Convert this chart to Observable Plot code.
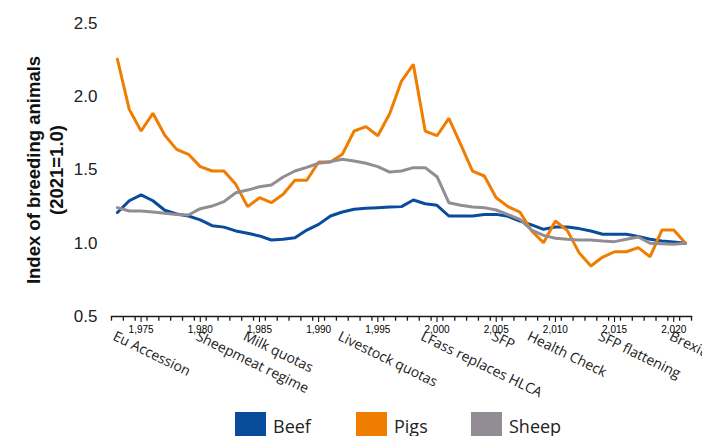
<!DOCTYPE html>
<html>
<head>
<meta charset="utf-8">
<script src="https://cdn.jsdelivr.net/npm/d3@7"></script>
<script src="https://cdn.jsdelivr.net/npm/@observablehq/plot@0.6"></script>
<style>
  html, body { margin: 0; padding: 0; background: #fff; width: 702px; height: 436px; overflow: hidden; }
  #chart { position: relative; width: 702px; height: 436px; }
  .leg { position: absolute; top: 412px; height: 24px; width: 31px; }
  .legt { position: absolute; top: 414px; font-family: "Open Sans", sans-serif; font-size: 18px; color: #222; line-height: 24px; }
</style>
</head>
<body>
<div id="chart"></div>
<script>
const years = d3.range(1973, 2022);
const beef = [1.21,1.29,1.33,1.29,1.225,1.2,1.186,1.16,1.12,1.11,1.084,1.068,1.05,1.022,1.027,1.038,1.09,1.129,1.186,1.213,1.232,1.239,1.243,1.247,1.25,1.295,1.27,1.259,1.186,1.186,1.186,1.197,1.197,1.184,1.152,1.125,1.095,1.111,1.111,1.1,1.084,1.061,1.061,1.061,1.047,1.027,1.015,1.009,1.0];
const pigs = [2.256,1.914,1.766,1.887,1.737,1.641,1.607,1.523,1.493,1.493,1.402,1.25,1.311,1.277,1.334,1.43,1.43,1.555,1.555,1.607,1.766,1.796,1.734,1.884,2.107,2.221,1.766,1.734,1.853,1.675,1.493,1.459,1.311,1.25,1.213,1.084,1.004,1.152,1.088,0.936,0.845,0.906,0.942,0.942,0.97,0.908,1.09,1.09,1.0];
const sheep = [1.243,1.22,1.22,1.213,1.204,1.197,1.193,1.236,1.254,1.284,1.345,1.363,1.386,1.398,1.452,1.493,1.518,1.546,1.557,1.573,1.561,1.546,1.523,1.486,1.493,1.516,1.516,1.454,1.277,1.259,1.247,1.243,1.227,1.195,1.163,1.09,1.054,1.034,1.027,1.022,1.022,1.015,1.011,1.027,1.043,1.0,0.997,0.993,1.0];
const eventYears = [1973,1980,1984,1992,1999,2005,2008,2014,2020];
const eventLabels = ["Eu Accession","Sheepmeat regime","Milk quotas","Livestock quotas","LFass replaces HLCA","SFP","Health Check","SFP flattening","Brexit"];
const yTicks = [0.5,1.0,1.5,2.0,2.5];
const seriesNames = ["Beef","Pigs","Sheep"];
const seriesColors = ["#0a4c9c","#f07d00","#928d94"];

const rows = [];
[beef, pigs, sheep].forEach((vals, s) => vals.forEach((v, i) => rows.push({year: years[i], value: v, series: seriesNames[s]})));
const events = eventYears.map((y, i) => ({year: y, label: eventLabels[i]}));
const tickEdges = d3.range(years[0] - 0.5, years[years.length - 1] + 1, 1);
const baseline = [{x: tickEdges[0], y: 0.5}, {x: tickEdges[tickEdges.length - 1], y: 0.5}];

const plot = Plot.plot({
  width: 702,
  height: 405,
  marginLeft: 111,
  marginRight: 11,
  marginTop: 23,
  marginBottom: 89,
  style: {fontFamily: "'Liberation Sans', Arial, sans-serif", background: "white", overflow: "visible"},
  x: {type: "linear", domain: [years[0] - 0.5, years[years.length - 1] + 0.5], label: null},
  y: {domain: [0.5, 2.5], label: null},
  color: {domain: seriesNames, range: seriesColors},
  marks: [
    Plot.axisY(yTicks, {label: null, tickSize: 0, tickPadding: 14, fontSize: 17, fill: "#222", tickFormat: d3.format(".1f")}),
    Plot.line(rows, {x: "year", y: "value", z: "series", stroke: "series", strokeWidth: 3, strokeLinejoin: "miter"}),
    Plot.text(events, {x: "year", text: "label", frameAnchor: "bottom", dy: 14, dx: -1, rotate: 26, textAnchor: "start", lineAnchor: "top", fontSize: 14, fontFamily: "'Open Sans', sans-serif", fill: "#222"}),
    Plot.text(["Index of breeding animals"], {frameAnchor: "left", dx: -77, rotate: -90, textAnchor: "middle", lineAnchor: "middle", fontSize: 18.5, fontWeight: "bold", fill: "#111"}),
    Plot.text(["(2021=1.0)"], {frameAnchor: "left", dx: -54, rotate: -90, textAnchor: "middle", lineAnchor: "middle", fontSize: 18.5, fontWeight: "bold", fill: "#111"}),
    Plot.ruleX(tickEdges, {x: d => d, y1: 0.5, y2: 0.468, stroke: "#1a1a1a", strokeWidth: 1.3}),
    Plot.line(baseline, {x: "x", y: "y", stroke: "#1a1a1a", strokeWidth: 1.6})
  ]
});
const chart = document.getElementById("chart");
chart.appendChild(plot);

const legX = [235, 356, 471];
seriesNames.forEach((n, i) => {
  const sq = document.createElement("div");
  sq.className = "leg";
  sq.style.left = legX[i] + "px";
  sq.style.background = seriesColors[i];
  chart.appendChild(sq);
  const t = document.createElement("div");
  t.className = "legt";
  t.style.left = (legX[i] + 38) + "px";
  t.textContent = n;
  chart.appendChild(t);
});
</script>
</body>
</html>
